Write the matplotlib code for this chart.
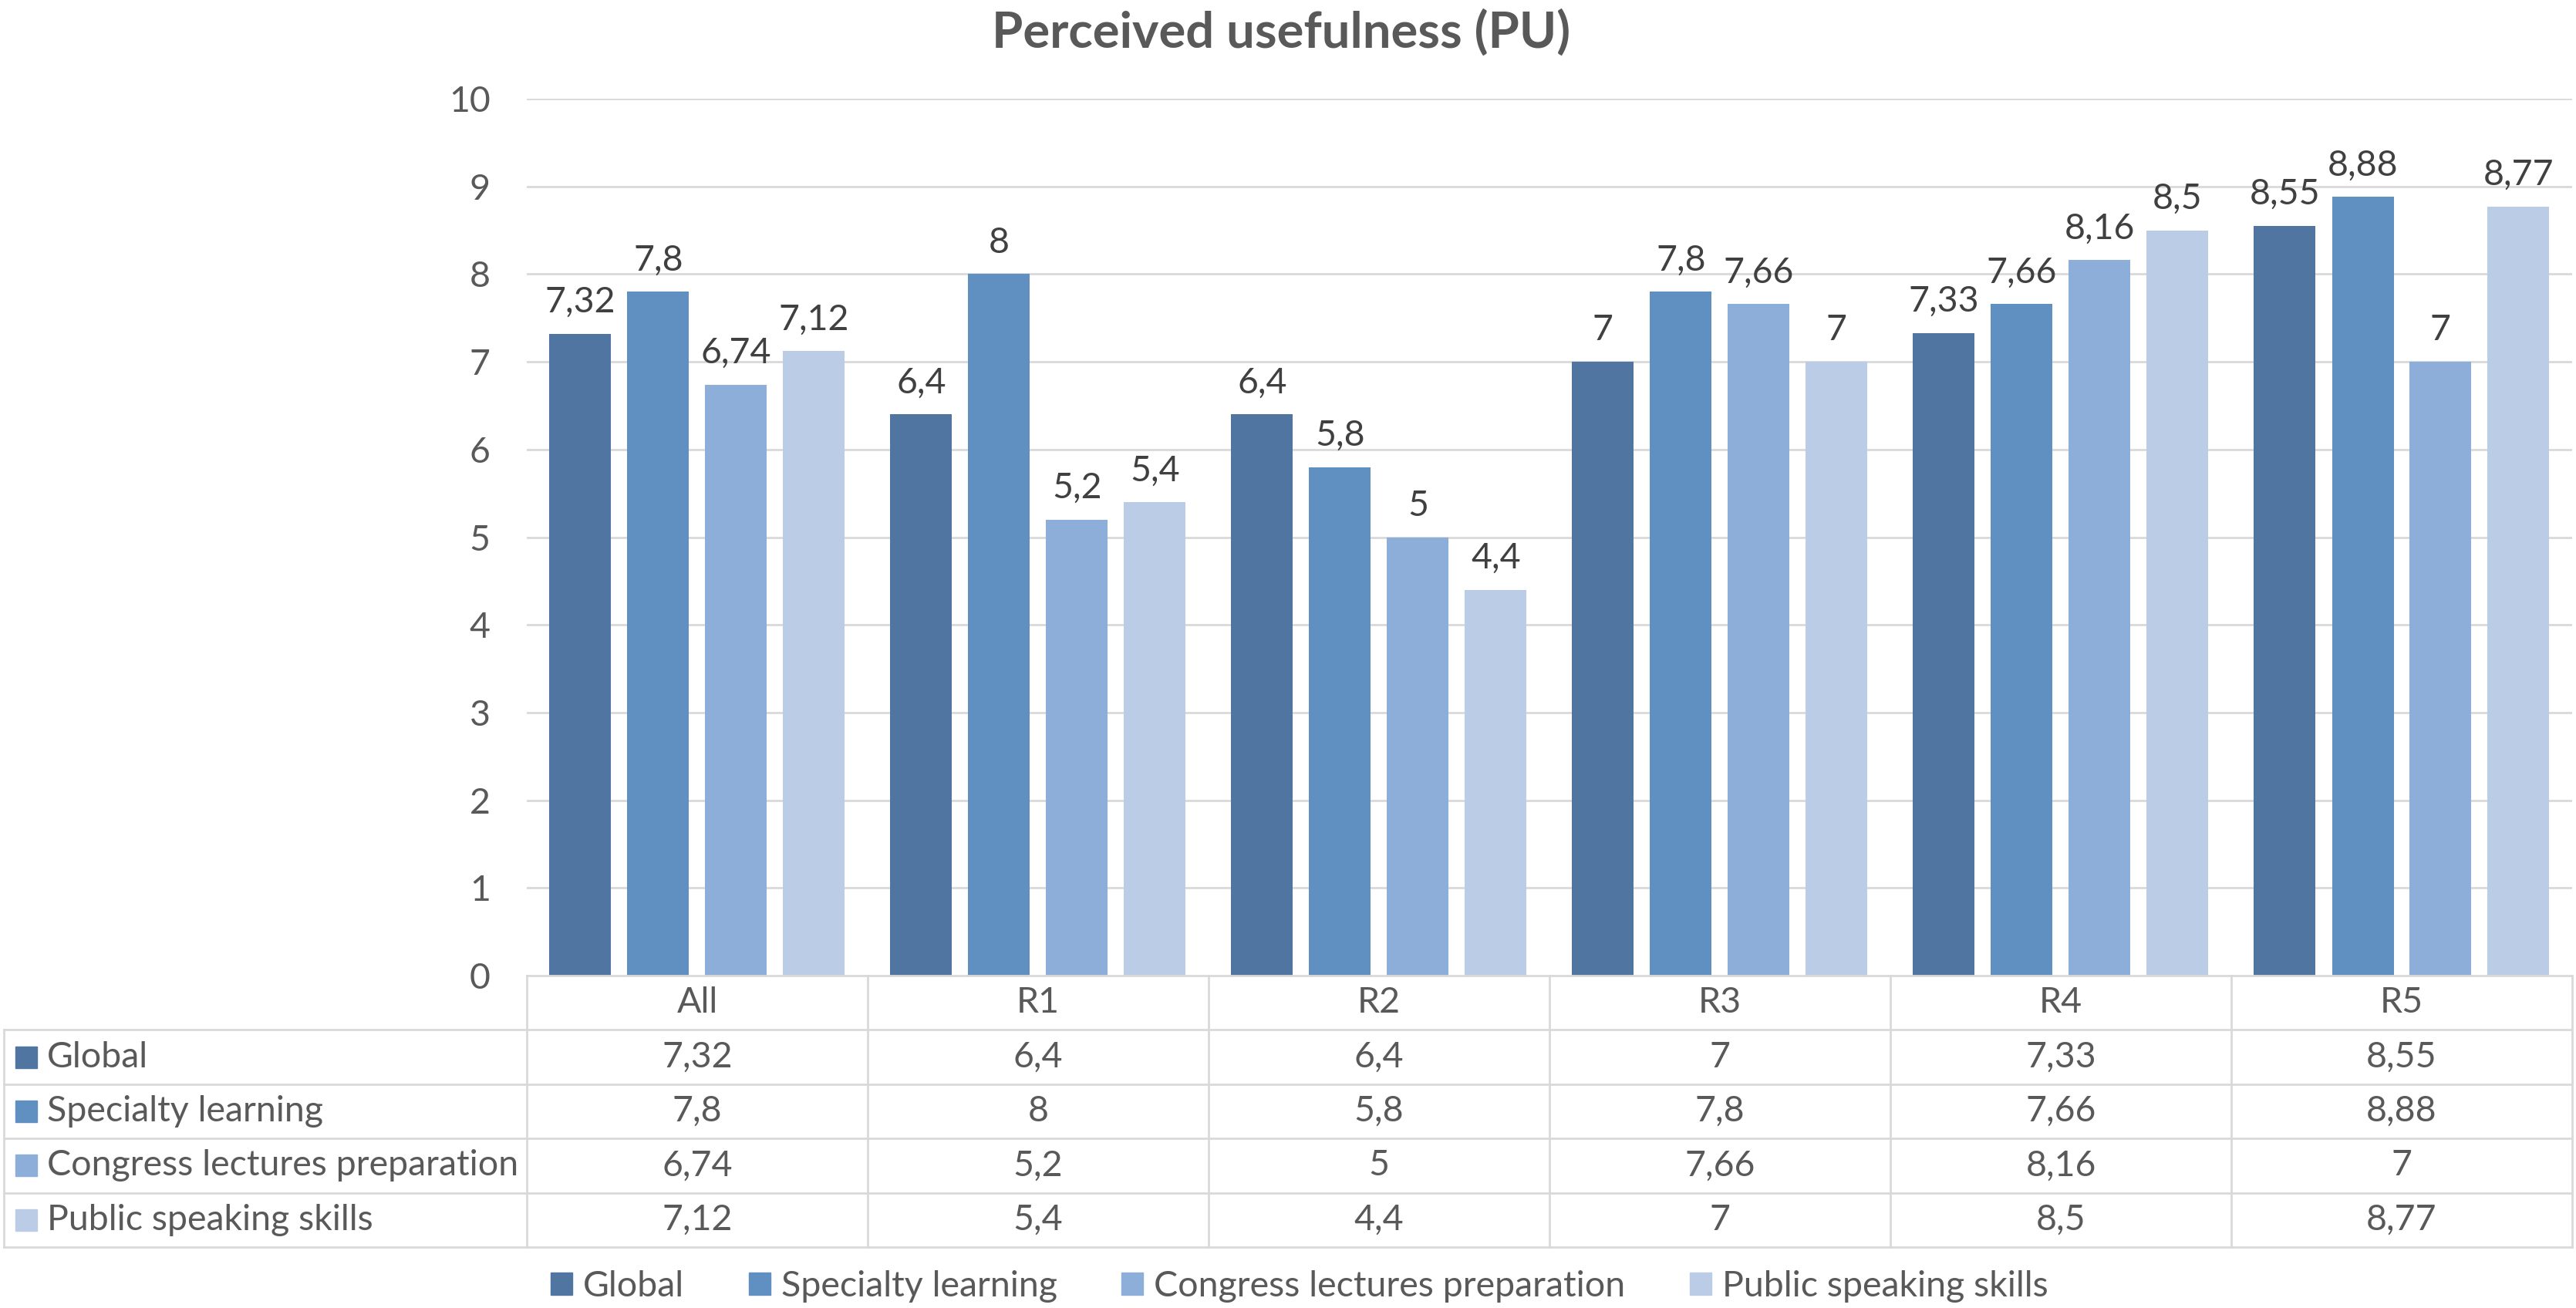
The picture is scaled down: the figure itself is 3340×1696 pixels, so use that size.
import matplotlib
matplotlib.use("Agg")
import matplotlib.pyplot as plt
import matplotlib.patches as mpatches
import numpy as np

# Chart data
categories = ["All", "R1", "R2", "R3", "R4", "R5"]
series_names = ["Global", "Specialty learning", "Congress lectures preparation", "Public speaking skills"]
global_vals = [7.32, 6.4, 6.4, 7, 7.33, 8.55]
specialty_vals = [7.8, 8, 5.8, 7.8, 7.66, 8.88]
congress_vals = [6.74, 5.2, 5, 7.66, 8.16, 7]
public_vals = [7.12, 5.4, 4.4, 7, 8.5, 8.77]
y_ticks = [0, 1, 2, 3, 4, 5, 6, 7, 8, 9, 10]
title = "Perceived usefulness (PU)"

series_vals = [global_vals, specialty_vals, congress_vals, public_vals]
colors = ["#5075A0", "#6090C2", "#8DAED8", "#BBCDE6"]
TEXT = "#595959"
LABEL = "#404040"
GRID = "#D9D9D9"
FS = 33.5

plt.rcParams['font.family'] = ['Lato', 'DejaVu Sans']

W, H = 3341, 1696
fig = plt.figure(figsize=(W / 100, H / 100), dpi=100)

# pixel layout
plot_l, plot_r, plot_t, plot_b = 683, 3335, 128, 1265
table_l, table_b = 5, 1617

ax = fig.add_axes([plot_l / W, 1 - plot_b / H, (plot_r - plot_l) / W, (plot_b - plot_t) / H])
x = np.arange(len(categories))
step = 101 / 442
width = 80 / 442
for i, (name, vals) in enumerate(zip(series_names, series_vals)):
    pos = x + (i - 1.5) * step
    ax.bar(pos, vals, width=width, color=colors[i], label=name, zorder=3)
    for xp, v in zip(pos, vals):
        ax.annotate(f"{v:g}".replace('.', ','), (xp, v), xytext=(0, 20), textcoords='offset points',
                    ha='center', va='baseline', fontsize=FS, color=LABEL, zorder=4)

ax.set_xlim(-0.5, len(categories) - 0.5)
ax.set_ylim(0, 10)
ax.set_yticks(y_ticks)
ax.set_yticklabels([str(t) for t in y_ticks], fontsize=FS, color=TEXT)
ax.tick_params(axis='y', length=0, pad=34)
ax.set_xticks([])
for s in ax.spines.values():
    s.set_visible(False)
for t in y_ticks[1:]:
    ax.axhline(t, color=GRID, lw=2, zorder=1)

# data table under the chart
tax = fig.add_axes([table_l / W, 1 - table_b / H, (plot_r - table_l) / W, (table_b - plot_b) / H])
lab_w = (plot_l - table_l) / 442
x0 = -0.5 - lab_w
n = len(categories)
tax.set_xlim(x0, n - 0.5)
tax.set_ylim(0, 5)
tax.axis('off')
# horizontal lines
tax.plot([-0.5, n - 0.5], [5, 5], color=GRID, lw=2, clip_on=False)
for yy in range(5):
    tax.plot([x0, n - 0.5], [yy, yy], color=GRID, lw=2, clip_on=False)
# vertical lines
for k in range(n + 1):
    tax.plot([k - 0.5, k - 0.5], [0, 5], color=GRID, lw=2, clip_on=False)
tax.plot([x0, x0], [0, 4], color=GRID, lw=2, clip_on=False)

for j, c in enumerate(categories):
    tax.text(j, 4.5, c, ha='center', va='center', fontsize=FS, color=TEXT)
for i, (name, vals) in enumerate(zip(series_names, series_vals)):
    yc = 3.5 - i
    tax.plot([x0 + 29 / 442], [yc], marker='s', markersize=20, color=colors[i], clip_on=False)
    tax.text(x0 + 56 / 442, yc, name, ha='left', va='center', fontsize=FS, color=TEXT)
    for j, v in enumerate(vals):
        tax.text(j, yc, f"{v:g}".replace('.', ','), ha='center', va='center', fontsize=FS, color=TEXT)

# title and legend
fig.text(1661 / W, 1 - 62 / H, title, ha='center', va='baseline', fontsize=47,
         fontweight='bold', color=TEXT)
handles = [mpatches.Patch(color=c, label=nm) for c, nm in zip(colors, series_names)]
leg = fig.legend(handles=handles, loc='center', bbox_to_anchor=(1685 / W, 1 - 1668 / H), ncol=4,
                 frameon=False, fontsize=FS, handlelength=0.6, handleheight=0.6,
                 handletextpad=0.3, columnspacing=1.8)
for t in leg.get_texts():
    t.set_color(TEXT)

fig.savefig("out.png", dpi=100)
